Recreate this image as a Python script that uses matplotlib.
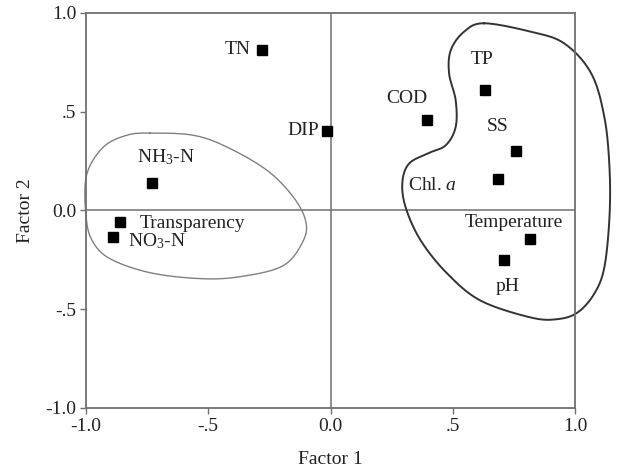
import numpy as np
import matplotlib
matplotlib.use("Agg")
import matplotlib.pyplot as plt

plt.rcParams['font.family'] = ['Liberation Serif', 'DejaVu Serif']
plt.rcParams['mathtext.fontset'] = 'custom'
plt.rcParams['mathtext.rm'] = 'Liberation Serif'
plt.rcParams['mathtext.it'] = 'Liberation Serif:italic'

# Variables and factor loadings
names = ["TN", "DIP", "NH$_3$-N", "Transparency", "NO$_3$-N", "COD", "TP",
         "SS", "Chl. $\\mathit{a}$", "Temperature", "pH"]
factor1 = [-0.28, -0.015, -0.73, -0.86, -0.89, 0.395, 0.63, 0.76, 0.685, 0.815, 0.71]
factor2 = [0.815, 0.405, 0.14, -0.06, -0.135, 0.46, 0.61, 0.30, 0.16, -0.145, -0.25]

# label offsets (data units) and alignment
label_dx = [-0.048, -0.034, 0.058, 0.081, 0.062, -0.084, -0.011, -0.076, -0.267, -0.065, 0.015]
label_dy = [0.0, 0.0, 0.129, -0.006, -0.022, 0.109, 0.156, 0.126, -0.033, 0.084, -0.136]
label_ha = ["right", "right", "center", "left", "left", "center", "center",
            "center", "center", "center", "center"]

ticks = [-1.0, -0.5, 0.0, 0.5, 1.0]
tick_labels = ["-1.0", "-.5", "0.0", ".5", "1.0"]

# Outline of the two groups (hand-drawn enclosures)
left_group_x = [-0.738, -0.561, -0.423, -0.259, -0.152, -0.102, -0.111, -0.193, -0.369,
                -0.533, -0.738, -0.902, -0.975, -1.0, -0.998, -0.930, -0.833]
left_group_y = [0.392, 0.381, 0.321, 0.203, 0.068, -0.051, -0.152, -0.279, -0.335,
                -0.345, -0.315, -0.244, -0.152, -0.025, 0.178, 0.320, 0.381]
right_group_x = [0.628, 0.820, 0.956, 1.066, 1.120, 1.141, 1.141, 1.120, 1.079, 1.011,
                 0.929, 0.820, 0.615, 0.478, 0.369, 0.307, 0.294, 0.321, 0.396, 0.471,
                 0.512, 0.512, 0.485, 0.492, 0.546]
right_group_y = [0.948, 0.905, 0.846, 0.695, 0.474, 0.220, -0.034, -0.288, -0.421, -0.516,
                 -0.550, -0.542, -0.457, -0.320, -0.152, 0.017, 0.144, 0.237, 0.288, 0.330,
                 0.423, 0.558, 0.694, 0.812, 0.905]


def smooth_closed(xs, ys, n=20):
    p = np.column_stack([xs, ys])
    m = len(p)
    out = []
    for i in range(m):
        p0, p1, p2, p3 = p[(i - 1) % m], p[i], p[(i + 1) % m], p[(i + 2) % m]
        t = np.linspace(0, 1, n, endpoint=False)[:, None]
        seg = 0.5 * ((2 * p1) + (-p0 + p2) * t + (2 * p0 - 5 * p1 + 4 * p2 - p3) * t ** 2
                     + (-p0 + 3 * p1 - 3 * p2 + p3) * t ** 3)
        out.append(seg)
    out = np.vstack(out)
    out = np.vstack([out, out[:1]])
    return out[:, 0], out[:, 1]


fig = plt.figure(figsize=(6.18, 4.73), dpi=100)
ax = fig.add_axes([86 / 618, (473 - 408) / 473, 489 / 618, 395 / 473])
ax.set_xlim(-1, 1)
ax.set_ylim(-1, 1)

spine_col = "#707070"
txt_col = "#222222"
fs = 14
for s in ax.spines.values():
    s.set_color(spine_col)
    s.set_linewidth(1.3)
ax.axhline(0, color=spine_col, lw=1.1, zorder=1)
ax.axvline(0, color=spine_col, lw=1.1, zorder=1)

lx, ly = smooth_closed(left_group_x, left_group_y)
ax.plot(lx, ly, color="#808080", lw=1.0, clip_on=False, zorder=2)
rx, ry = smooth_closed(right_group_x, right_group_y)
ax.plot(rx, ry, color="#333333", lw=1.4, clip_on=False, zorder=2)

ax.plot(factor1, factor2, ls="none", marker="s", ms=7, color="black", zorder=3)
for nm, x, y, dx, dy, ha in zip(names, factor1, factor2, label_dx, label_dy, label_ha):
    ax.text(x + dx, y + dy, nm, ha=ha, va="center", fontsize=fs, color=txt_col)

ax.set_xticks(ticks)
ax.set_xticklabels(tick_labels)
ax.set_yticks(ticks)
ax.set_yticklabels(tick_labels)
ax.tick_params(direction="out", length=4, width=1.0, color=spine_col,
               labelsize=fs, labelcolor=txt_col, pad=3)
ax.set_xlabel("Factor 1", fontsize=fs, color=txt_col, labelpad=12)
ax.set_ylabel("Factor 2", fontsize=fs, color=txt_col, labelpad=8)

fig.savefig("out.png", dpi=100)
